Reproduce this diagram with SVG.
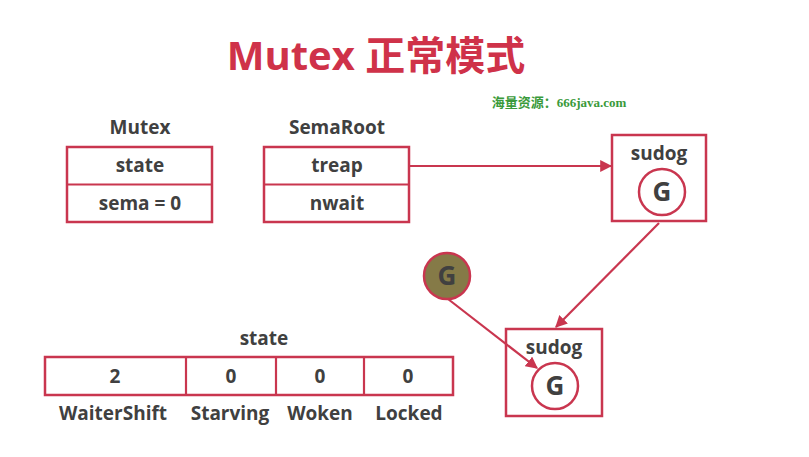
<svg xmlns="http://www.w3.org/2000/svg" width="809" height="457" viewBox="0 0 809 457">
<style>
.box{fill:#fff;stroke:#c9364f;stroke-width:2.5}
.t{font-family:"Open Sans","Noto Sans","Noto Sans CJK SC",sans-serif;font-weight:bold;fill:#404040;font-size:19px;text-anchor:middle}
.g{font-size:26px}
.c{stroke:#c9364f;stroke-width:2.2;fill:none}
</style>
<defs>
<marker id="a" viewBox="0 0 10 10" refX="9" refY="5" markerWidth="12" markerHeight="12" orient="auto" markerUnits="userSpaceOnUse">
<path d="M0,0 L10,5 L0,10 z" fill="#c9364f"/>
</marker>
</defs>
<rect width="809" height="457" fill="#fff"/>
<g id="title">
<text x="376" y="70" font-family="'Open Sans','Noto Sans CJK SC',sans-serif" font-weight="bold" font-size="40" fill="#cf3249" text-anchor="middle">Mutex 正常模式</text>
<text x="559" y="107" font-family="'Liberation Serif','Noto Sans CJK SC',serif" font-weight="bold" font-size="13" fill="#3a9a3a" text-anchor="middle">海量资源：666java.com</text>
</g>
<g id="mutex">
<text class="t" x="140" y="134">Mutex</text>
<rect class="box" x="67" y="147" width="145" height="75"/>
<line class="c" x1="67" y1="184.5" x2="212" y2="184.5" stroke-width="2.5"/>
<text class="t" x="140" y="172">state</text>
<text class="t" x="140" y="210">sema = 0</text>
</g>
<g id="semaroot">
<text class="t" x="337" y="134">SemaRoot</text>
<rect class="box" x="264" y="147" width="145" height="75"/>
<line class="c" x1="264" y1="184.5" x2="409" y2="184.5" stroke-width="2.5"/>
<text class="t" x="337" y="172">treap</text>
<text class="t" x="337" y="210">nwait</text>
</g>
<g id="sudog1">
<rect class="box" x="612" y="135" width="94" height="86"/>
<text class="t" x="659" y="160">sudog</text>
<circle cx="662" cy="192" r="23" fill="#fff" stroke="#c9364f" stroke-width="2.5"/>
<text class="t g" x="662" y="201">G</text>
</g>
<g id="g-waiting">
<circle cx="447" cy="276" r="23" fill="#857a47" stroke="#c9364f" stroke-width="2.5"/>
<text class="t g" x="447" y="285">G</text>
</g>
<g id="sudog2">
<rect class="box" x="506" y="329" width="96" height="87"/>
<text class="t" x="554" y="354">sudog</text>
<circle cx="555" cy="386" r="23" fill="#fff" stroke="#c9364f" stroke-width="2.5"/>
<text class="t g" x="555" y="395">G</text>
</g>
<g id="state">
<text class="t" x="264" y="345">state</text>
<rect class="box" x="45" y="357" width="408" height="38"/>
<line class="c" x1="186" y1="357" x2="186" y2="395" stroke-width="2.5"/>
<line class="c" x1="276" y1="357" x2="276" y2="395" stroke-width="2.5"/>
<line class="c" x1="364" y1="357" x2="364" y2="395" stroke-width="2.5"/>
<text class="t" x="115" y="383">2</text>
<text class="t" x="231" y="383">0</text>
<text class="t" x="320" y="383">0</text>
<text class="t" x="408" y="383">0</text>
<text class="t" x="113" y="420">WaiterShift</text>
<text class="t" x="230" y="420">Starving</text>
<text class="t" x="320" y="420">Woken</text>
<text class="t" x="409" y="420">Locked</text>
</g>
<g id="connectors">
<line class="c" x1="409" y1="166" x2="611" y2="166" marker-end="url(#a)"/>
<line class="c" x1="659" y1="223" x2="556" y2="327" marker-end="url(#a)"/>
<line class="c" x1="448" y1="299" x2="537" y2="368" marker-end="url(#a)"/>
</g>
</svg>
